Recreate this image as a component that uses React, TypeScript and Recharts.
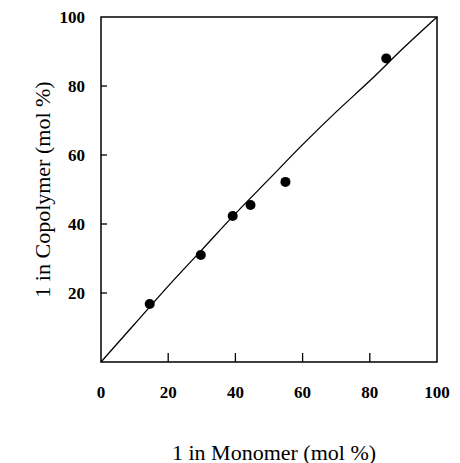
import {
  ComposedChart,
  Line,
  Scatter,
  XAxis,
  YAxis,
  ReferenceArea,
  Label,
} from "recharts";

// measured copolymer composition
const MONOMER = [14.5, 29.7, 39.2, 44.5, 54.9, 84.9];
const COPOLYMER = [16.8, 31, 42.3, 45.5, 52.2, 88];

// calculated composition curve
const CURVE_X = [0, 10, 20, 30, 40, 50, 60, 70, 80, 90, 100];
const CURVE_Y = [0, 11, 22, 32.5, 43, 53, 63, 72.5, 81.5, 91, 100];

const X_TICKS = [0, 20, 40, 60, 80, 100];
const Y_TICKS = [20, 40, 60, 80, 100];

const FONT = "Liberation Serif";

const points = MONOMER.map((x, i) => ({ x, y: COPOLYMER[i] }));
const curve = CURVE_X.map((x, i) => ({ x, y: CURVE_Y[i] }));

function renderXTick(props: any) {
  const { x, y, payload } = props;
  const v = payload.value;
  return (
    <g key={`xt-${v}`}>
      {v !== 0 && v !== 100 && <line x1={x} x2={x} y1={y} y2={y - 9} stroke="#000" strokeWidth={1.3} />}
      <text
        x={x}
        y={y + 30}
        textAnchor="middle"
        dominantBaseline="central"
        fill="#000"
        fontFamily={FONT}
        fontWeight="bold"
        fontSize={17}
      >
        {v}
      </text>
    </g>
  );
}

function renderYTick(props: any) {
  const { x, y, payload } = props;
  const v = payload.value;
  return (
    <g key={`yt-${v}`}>
      {v !== 100 && <line x1={x} x2={x + 6} y1={y} y2={y} stroke="#000" strokeWidth={1.3} />}
      <text
        x={x - 16}
        y={y}
        textAnchor="end"
        dominantBaseline="central"
        fill="#000"
        fontFamily={FONT}
        fontWeight="bold"
        fontSize={17}
      >
        {v}
      </text>
    </g>
  );
}

export default function App() {
  return (
    <div style={{ width: 460, height: 463, background: "#fff" }}>
      <style>{"body{margin:0}"}</style>
      <ComposedChart width={460} height={463} margin={{ top: 17, right: 23, bottom: 0, left: 0 }}>
        <XAxis
          dataKey="x"
          type="number"
          domain={[0, 100]}
          ticks={X_TICKS}
          height={101}
          axisLine={false}
          tickLine={false}
          tickSize={0}
          tickMargin={0}
          tick={renderXTick}
          interval={0}
        >
          <Label
            content={({ viewBox }: any) => (
              <text
                x={viewBox.x + viewBox.width / 2 + 5}
                y={viewBox.y + 90}
                textAnchor="middle"
                dominantBaseline="central"
                fill="#000"
                fontFamily={FONT}
                fontSize={22}
              >
                1 in Monomer (mol %)
              </text>
            )}
          />
        </XAxis>
        <YAxis
          dataKey="y"
          type="number"
          domain={[0, 100]}
          ticks={Y_TICKS}
          width={101}
          axisLine={false}
          tickLine={false}
          tickSize={0}
          tickMargin={0}
          tick={renderYTick}
          interval={0}
        >
          <Label
            content={({ viewBox }: any) => {
              const cx = viewBox.x + 42;
              const cy = viewBox.y + viewBox.height / 2;
              return (
                <text
                  x={cx}
                  y={cy}
                  transform={`rotate(-90 ${cx} ${cy})`}
                  textAnchor="middle"
                  dominantBaseline="central"
                  fill="#000"
                  fontFamily={FONT}
                  fontSize={22}
                >
                  1 in Copolymer (mol %)
                </text>
              );
            }}
          />
        </YAxis>
        <ReferenceArea x1={0} x2={100} y1={0} y2={100} fill="none" stroke="#000" strokeWidth={1.5} fillOpacity={0} />
        <Line
          data={curve}
          dataKey="y"
          type="monotone"
          stroke="#000"
          strokeWidth={1.3}
          dot={false}
          isAnimationActive={false}
        />
        <Scatter
          data={points}
          dataKey="y"
          fill="#000"
          isAnimationActive={false}
          shape={(p: any) => <circle cx={p.cx} cy={p.cy} r={5} fill="#000" />}
        />
      </ComposedChart>
    </div>
  );
}
